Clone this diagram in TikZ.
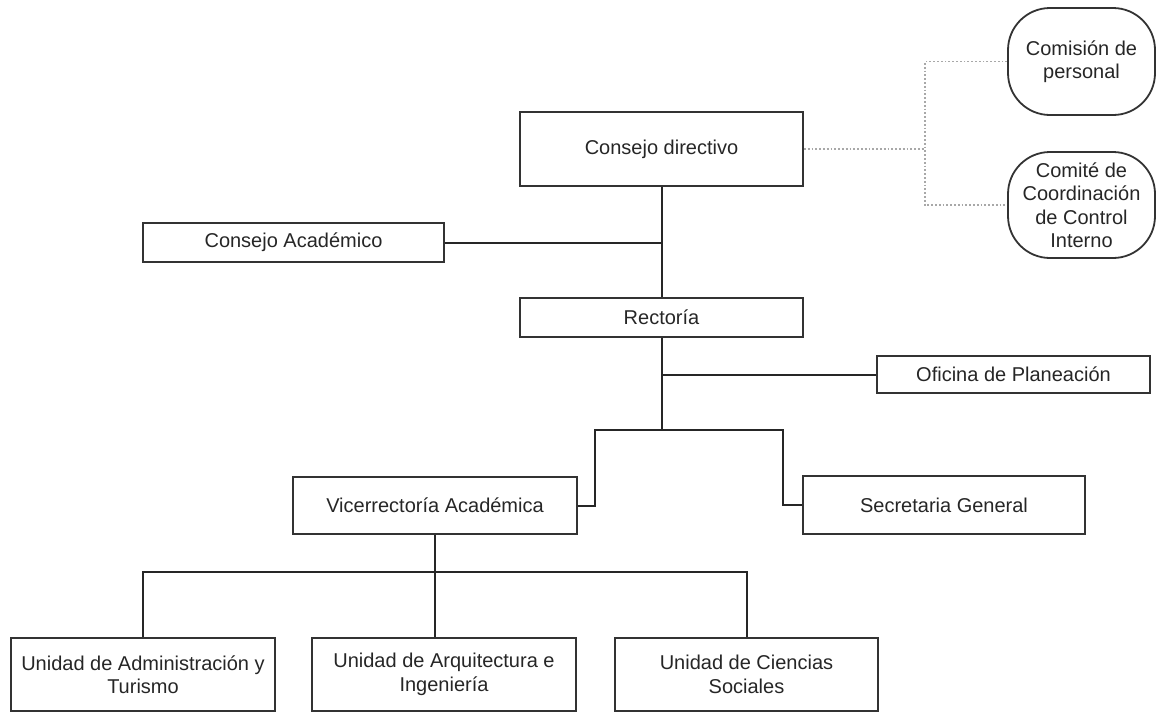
\documentclass[tikz,border=0pt]{standalone}
\usepackage{fontspec}
\setmainfont{Liberation Sans}
\definecolor{boxline}{HTML}{333333}
\definecolor{dotgray}{HTML}{A8A8A8}
\begin{document}
\begin{tikzpicture}[x=0.5pt,y=-0.5pt,
  font=\fontsize{10pt}{11.75pt}\selectfont,
  unit/.style={shape=rectangle,draw=boxline,line width=0.9pt,align=center,text=black!85,inner sep=2pt},
  unitR/.style={unit,rounded corners=21pt},
  link/.style={draw=black!85,line width=1pt},
  dotlink/.style={draw=dotgray,line width=0.9pt,densely dotted}]
\def\hb{36.5pt};
\def\wb{132pt};

\useasboundingbox (0,0) rectangle (1156,713);

\node[unit,minimum width=141.5pt,minimum height=37pt] (CD) at (661.5,149) {Consejo directivo};
\node[unit,minimum width=150.5pt,minimum height=19.5pt] (CA) at (293.5,242.5) {Consejo Académico};
\node[unit,minimum width=141.5pt,minimum height=19.5pt] (R) at (661.5,317.5) {Rectoría};
\node[unit,minimum width=136.5pt,minimum height=18.5pt] (OP) at (1013.5,374.5) {Oficina de Planeación};

\node[unitR,minimum width=73.5pt,minimum height=53.5pt] (CP) at (1081.5,61.5) {Comisión de\\personal};
\node[unitR,minimum width=73.5pt,minimum height=53pt] (CC) at (1081.5,205) {Comité de\\Coordinación\\de Control\\Interno};

\node[unit,minimum width=142pt,minimum height=28.5pt] (VA) at (435,505.5) {Vicerrectoría Académica};
\node[unit,minimum width=141pt,minimum height=29pt] (SG) at (944,505) {Secretaria General};

\node[unit,minimum width=\wb,minimum height=\hb] (UA) at (143,674.5) {Unidad de Administración y\\Turismo};
\node[unit,minimum width=\wb,minimum height=\hb] (UI) at (444,674.5) {Unidad de Arquitectura e\\Ingeniería};
\node[unit,minimum width=131.5pt,minimum height=\hb] (UC) at (746.5,674.5) {Unidad de Ciencias\\Sociales};

% direccion
\draw[link] (CD.south) -- (R.north);
\draw[link] (CA.east) -- (CA.east -| CD.south);
\draw[link] (R.south) -- (661.5,430);
\draw[link] (OP.west) -- (OP.west -| R.south);

% comites
\coordinate (k) at (925,149);
\draw[dotlink] (CD.east) -- (k);
\draw[dotlink] (CP.west) -| (k) |- (CC.west);

% vicerrectoria y secretaria
\coordinate (jL) at (595,430);
\coordinate (jR) at (783,430);
\draw[link] (VA.east) -| (jL) -- (jR) |- (SG.west);

% unidades
\coordinate (j2) at (435,572);
\draw[link] (VA.south) -- (j2);
\draw[link] (UA.north) |- (j2) -| (UC.north);
\draw[link] (j2) -- (j2 |- UI.north);
\end{tikzpicture}
\end{document}
